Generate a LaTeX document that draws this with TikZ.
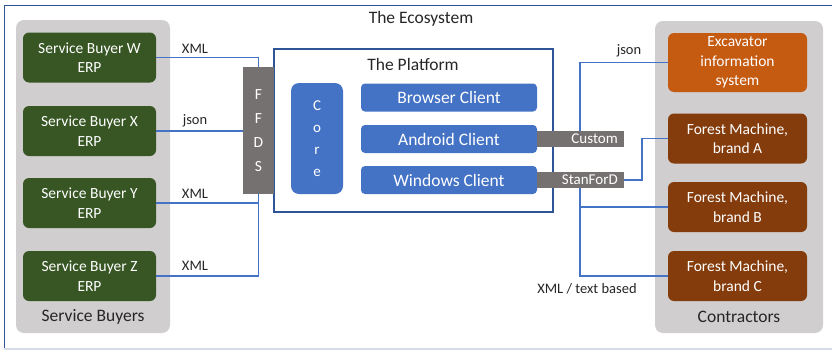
\documentclass[tikz,border=0pt]{standalone}
\usepackage{fontspec}
\setmainfont{Carlito}
\definecolor{buyergreen}{HTML}{375623}
\definecolor{excorange}{HTML}{C55A11}
\definecolor{forestbrown}{HTML}{843C0C}
\definecolor{clientblue}{HTML}{4472C4}
\definecolor{platformblue}{HTML}{2F5597}
\definecolor{bargray}{HTML}{767171}
\definecolor{panelgray}{HTML}{D0CECE}
\definecolor{textgray}{HTML}{262626}
\definecolor{paleframe}{HTML}{D6DCE5}
\begin{document}
\begin{tikzpicture}[x=1pt, y=-1pt,
        panel/.style={fill=panelgray, rounded corners=8pt},
        boxtext/.style={text=white, align=center, inner sep=0pt, font=\fontsize{15.5}{19.5}\selectfont},
        buyer/.style={boxtext, fill=buyergreen, rounded corners=6pt, minimum width=133pt, minimum height=50pt},
        machine/.style={boxtext, fill=forestbrown, rounded corners=6pt, minimum width=139pt, minimum height=50pt},
        client/.style={boxtext, fill=clientblue, rounded corners=4pt, minimum width=176pt, minimum height=28pt, font=\fontsize{17.5}{20}\selectfont},
        bar/.style={fill=bargray, text=white, minimum height=16pt, inner ysep=0pt, inner xsep=6pt, text width=75pt, align=right, font=\fontsize{15}{16}\selectfont},
        link/.style={draw=clientblue, line width=1.9pt},
        lbl/.style={text=textgray, inner sep=0pt, font=\fontsize{14.5}{16}\selectfont},
        heading/.style={text=textgray, inner sep=0pt, font=\fontsize{17.5}{20}\selectfont}]
    \useasboundingbox (0,0) rectangle (832,351);
    \draw[platformblue, line width=1pt] (832,5) -- (4,5) -- (4,349);
    \draw[paleframe, line width=1.5pt] (4,349) -- (832,349);
    \node[heading] (ecosystem) at (421,19) {The Ecosystem};

    \fill[panel] (16,20) rectangle (170,333);
    \fill[panel] (655,21) rectangle (823,333);
    \node[heading] (buyers) at (93,317) {Service Buyers};
    \node[heading] (contractors) at (739,317) {Contractors};

    \node[buyer] (W) at (89.5,57.5) {Service Buyer W\\ERP};
    \node[buyer] (X) at (89.5,131) {Service Buyer X\\ERP};
    \node[buyer] (Y) at (89.5,203) {Service Buyer Y\\ERP};
    \node[buyer] (Z) at (89.5,276) {Service Buyer Z\\ERP};

    \node[machine, fill=excorange, minimum height=59pt] (exc) at (737.5,62.5) {Excavator\\information\\system};
    \node[machine] (A) at (737.5,138.5) {Forest Machine,\\brand A};
    \node[machine] (B) at (737.5,207) {Forest Machine,\\brand B};
    \node[machine] (C) at (737.5,276) {Forest Machine,\\brand C};

    \node[draw=platformblue, line width=2.8pt, fill=white, minimum width=279pt, minimum height=163pt, inner sep=0pt] (platform) at (413.5,130.5) {};
    \node[heading] (platformtitle) at (413,64) {The Platform};
    \node[boxtext, fill=clientblue, rounded corners=8pt, minimum width=52pt, minimum height=111pt, font=\fontsize{15}{22}\selectfont] (core) at (317,138.5) {C\\o\\r\\e};
    \node[client] (browser) at (449,97.5) {Browser Client};
    \node[client] (android) at (449,139) {Android Client};
    \node[client] (windows) at (449,180) {Windows Client};

    \node[boxtext, fill=bargray, minimum width=31pt, minimum height=127pt, font=\fontsize{15.5}{24}\selectfont] (ffds) at (258.5,130.5) {F\\F\\D\\S};
    \node[bar, anchor=east] (custom) at (624,139) {Custom};
    \node[bar, anchor=east] (stanford) at (624,180) {StanForD};

    \draw[link] (W.east) -| (ffds.north);
    \draw[link] (X.east) -- (X.east -| ffds.west);
    \draw[link] (Y.east) -| (ffds.south);
    \draw[link] (Z.east) -| (ffds.south);
    \draw[link] (exc.west) -| (custom.north);
    \draw[link] (A.west) -- ++(-26,0) |- (stanford.east);
    \draw[link] (B.west) -| (stanford.south);
    \draw[link] (C.west) -| (stanford.south);

    \node[lbl] (xmlw) at (195,49) {XML};
    \node[lbl] (jsonx) at (195,121) {json};
    \node[lbl] (xmly) at (195,194) {XML};
    \node[lbl] (xmlz) at (195,266) {XML};
    \node[lbl] (jsonexc) at (629,51) {json};
    \node[lbl] (xmltext) at (587,289) {XML / text based};
\end{tikzpicture}
\end{document}
